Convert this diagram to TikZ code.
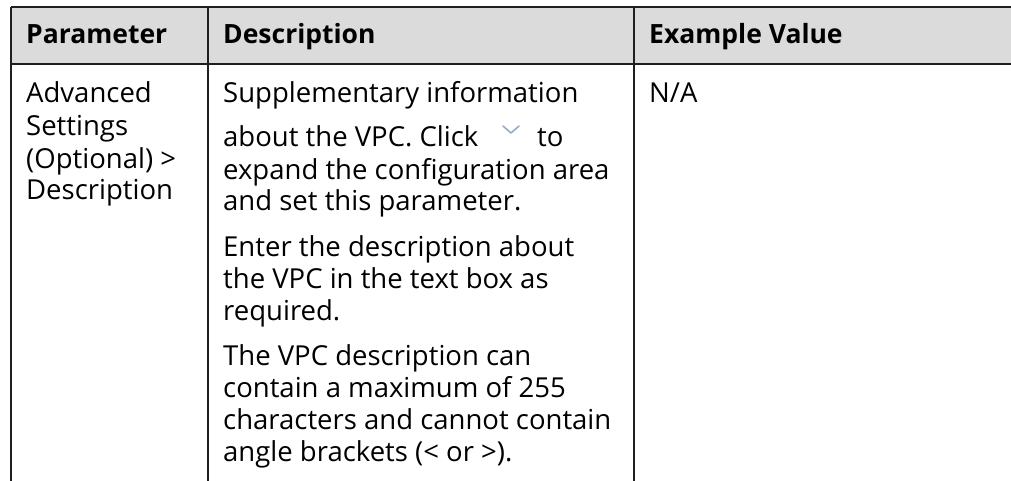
\documentclass[tikz,border=0pt]{standalone}
\usepackage{fontspec}
\setmainfont{Open Sans}
\begin{document}
\begin{tikzpicture}[x=1pt,y=-1pt,
  rule/.style={line width=2pt,draw=black!88},
  cell/.style={anchor=base west,inner sep=0pt,font=\fontsize{27.5}{32}\selectfont},
  head/.style={cell,font=\fontsize{26.5}{32}\selectfont\bfseries},
  chevron/.style={line width=1.6pt,draw={rgb,255:red,150;green,172;blue,205},line cap=round,line join=round}]
\useasboundingbox (0,0) rectangle (1011,481);
% header band
\fill[black!14] (11,7) rectangle (1011,64);
% rules
\draw[rule] (11,7) -- (1011,7);
\draw[rule] (11,64) -- (1011,64);
\draw[rule] (11,7) -- (11,481);
\draw[rule] (208,7) -- (208,481);
\draw[rule] (634,7) -- (634,481);
% header texts
\node[head] (h1) at (26,44) {Parameter};
\node[head] (h2) at (223,44) {Description};
\node[head] (h3) at (649,44) {Example Value};
% first column
\node[cell] (p1) at (26,103) {Advanced};
\node[cell] (p2) at (26,136) {Settings};
\node[cell] (p3) at (26,168) {(Optional) >};
\node[cell] (p4) at (26,200) {Description};
% second column
\node[cell] (d1) at (223,103) {Supplementary information};
\node[cell] (d2) at (223,147) {about the VPC. Click};
\node[cell] (d2b) at (537,147) {to};
\node[cell] (d3) at (223,179) {expand the configuration area};
\node[cell] (d4) at (223,211) {and set this parameter.};
\node[cell] (d5) at (223,256) {Enter the description about};
\node[cell] (d6) at (223,288) {the VPC in the text box as};
\node[cell] (d7) at (223,320) {required.};
\node[cell] (d8) at (223,365) {The VPC description can};
\node[cell] (d9) at (223,397) {contain a maximum of 255};
\node[cell] (d10) at (223,429) {characters and cannot contain};
\node[cell] (d11) at (223,461) {angle brackets (< or >).};
% expand icon
\draw[chevron] (503,126) -- (511,133) -- (519,126);
% third column
\node[cell] (v1) at (649,103) {N/A};
\end{tikzpicture}
\end{document}
